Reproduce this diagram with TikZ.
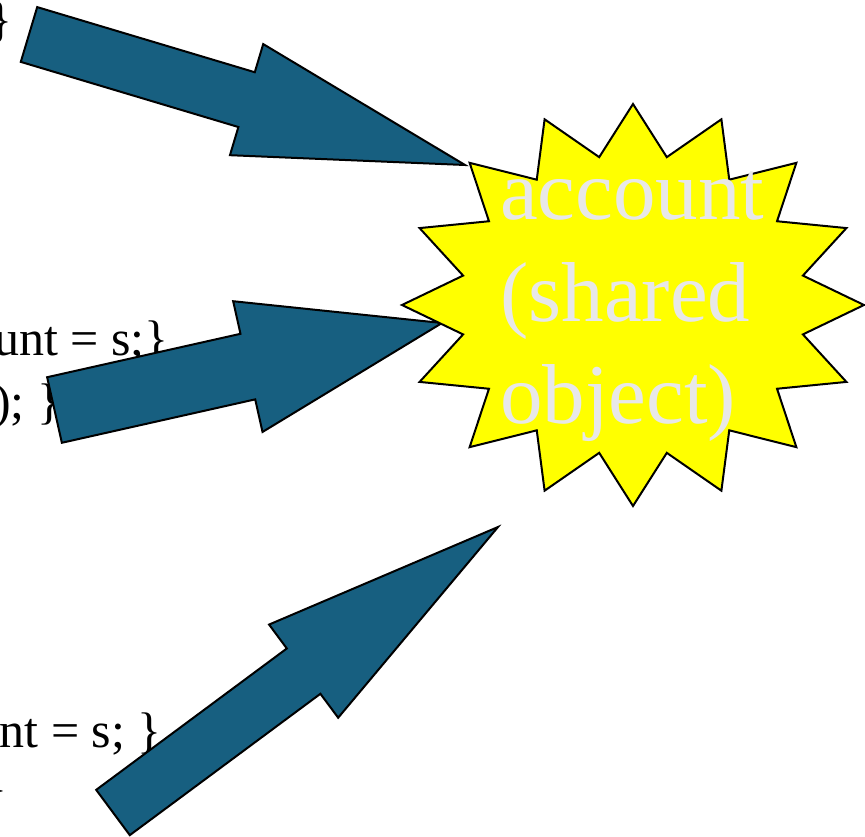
\documentclass[tikz,border=0pt]{standalone}
\usepackage{fontspec}
\setmainfont{Liberation Serif}
\usepackage{xcolor}
\usepackage{tikz}
\usetikzlibrary{calc}

\definecolor{arrowblue}{RGB}{23,95,128}
\definecolor{burstyellow}{RGB}{255,255,0}
\definecolor{labelgray}{RGB}{232,232,232}

\begin{document}
\begin{tikzpicture}[
        x=1pt, y=-1pt,
        code/.style={inner sep=0pt, font=\fontsize{50}{60}\selectfont},
        fat/.style={draw, fill=arrowblue, line width=2pt},
        burst/.style={draw, fill=burstyellow, line width=2pt},
        starlabel/.style={inner sep=0pt, align=left, text=labelgray, font=\fontsize{85}{102}\selectfont}
    ]
    \useasboundingbox (0,0) rectangle (865,837);
    \clip (0,0) rectangle (865,837);
    \node[code, anchor=base east] (brace1) at (12.5,37) {\}};
    \node[code, anchor=base east] (line2a) at (169,355) {unt = s;\}};
    \node[code, anchor=base west] (line2b) at (-6,418) {); \}};
    \node[code, anchor=base east] (line3a) at (162,747) {nt = s; \}};
    \node[code, anchor=base east] (brace3) at (7.5,805) {\}};
    \coordinate (tail1) at (29,34.5);
    \coordinate (tip1) at (465,165);
    \coordinate (tail2) at (54.5,410);
    \coordinate (tip2) at (442,323);
    \coordinate (tail3) at (113,812.5);
    \coordinate (tip3) at (498,527);
    \foreach \src/\dst/\shaft/\barb/\headlen in {tail1/tip1/28.6/58/228, tail2/tip2/33.6/67/199, tail3/tip3/28.2/58/242} {
        \coordinate (neck) at ($(\dst)!\headlen pt!(\src)$);
        \draw[fat] ($(\src)!\shaft pt!90:(\dst)$) -- ($(neck)!\shaft pt!90:(\dst)$) -- ($(neck)!\barb pt!90:(\dst)$) -- (\dst)
            -- ($(neck)!\barb pt!-90:(\dst)$) -- ($(neck)!\shaft pt!-90:(\dst)$) -- ($(\src)!\shaft pt!-90:(\dst)$) -- cycle;
    }
    \coordinate (burstc) at (633,305);
    \draw[burst, shift={(burstc)}] (0:231pt and 201pt)
        \foreach \i [evaluate=\i as \rx using {mod(\i,2)==0 ? 231 : 173.25},
                     evaluate=\i as \ry using {mod(\i,2)==0 ? 201 : 150.75}] in {1,...,31}
        { -- ({\i*11.25}:\rx pt and \ry pt) } -- cycle;
    \node[starlabel, anchor=base west] (acct) at (500,423) {account\\(shared\\object)};
\end{tikzpicture}
\end{document}
